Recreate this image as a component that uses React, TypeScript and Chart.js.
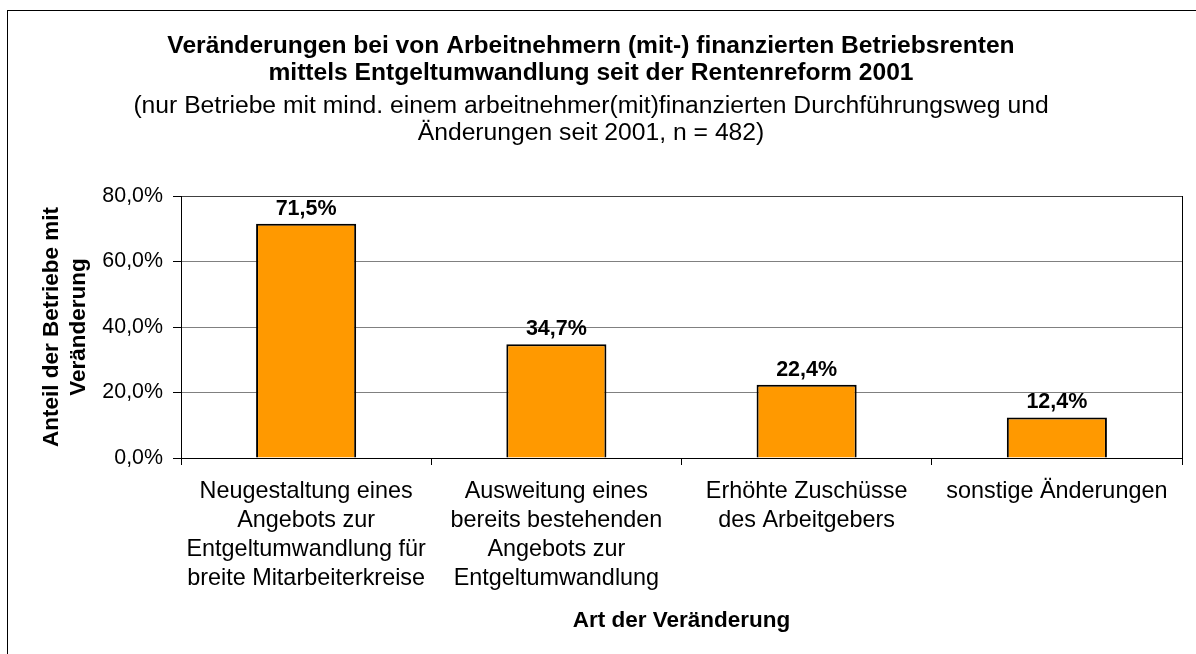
import React, { useEffect, useRef } from 'react';
import { Chart, registerables } from 'chart.js';

Chart.register(...registerables);

const FONT = "'Liberation Sans', Arial, Helvetica, sans-serif";

const titleLines = [
  'Veränderungen bei von Arbeitnehmern (mit-) finanzierten Betriebsrenten',
  'mittels Entgeltumwandlung seit der Rentenreform 2001',
];
const subtitleLines = [
  '(nur Betriebe mit mind. einem arbeitnehmer(mit)finanzierten Durchführungsweg und',
  'Änderungen seit 2001, n = 482)',
];
const categories = [
  ['Neugestaltung eines', 'Angebots zur', 'Entgeltumwandlung für', 'breite Mitarbeiterkreise'],
  ['Ausweitung eines', 'bereits bestehenden', 'Angebots zur', 'Entgeltumwandlung'],
  ['Erhöhte Zuschüsse', 'des Arbeitgebers'],
  ['sonstige Änderungen'],
];
const values = [71.5, 34.7, 22.4, 12.4];
const yMin = 0;
const yMax = 80;
const yStep = 20;
const yAxisTitle = ['Anteil der Betriebe mit', 'Veränderung'];
const xAxisTitle = 'Art der Veränderung';

const fmt = (v: number) => v.toFixed(1).replace('.', ',') + '%';

const valueLabels = {
  id: 'valueLabels',
  afterDatasetsDraw(chart: any) {
    const ctx = chart.ctx;
    const meta = chart.getDatasetMeta(0);
    ctx.save();
    ctx.font = `bold 21.5px ${FONT}`;
    ctx.fillStyle = '#000';
    ctx.textAlign = 'center';
    ctx.textBaseline = 'middle';
    meta.data.forEach((bar: any, i: number) => {
      const v = chart.data.datasets[0].data[i] as number;
      ctx.fillText(fmt(v), bar.x, bar.y - 15);
    });
    ctx.restore();
  },
};

const plotBorder = {
  id: 'plotBorder',
  afterDraw(chart: any) {
    const { ctx, chartArea } = chart;
    ctx.save();
    ctx.strokeStyle = '#000';
    ctx.lineWidth = 1;
    const x = Math.round(chartArea.right) + 0.5;
    ctx.beginPath();
    ctx.moveTo(x, chartArea.top);
    ctx.lineTo(x, chartArea.bottom);
    ctx.stroke();
    ctx.restore();
  },
};

export default function App() {
  const ref = useRef<HTMLCanvasElement | null>(null);

  useEffect(() => {
    document.documentElement.style.overflow = 'hidden';
    document.body.style.overflow = 'hidden';
    if (!ref.current) return;
    const chart = new Chart(ref.current, {
      type: 'bar',
      data: {
        labels: categories as any,
        datasets: [
          {
            data: values,
            backgroundColor: '#FF9900',
            borderColor: '#000000',
            borderWidth: 2,
            barPercentage: 0.8,
            categoryPercentage: 0.5,
          },
        ],
      },
      options: {
        responsive: false,
        animation: false,
        devicePixelRatio: 1,
        layout: { padding: { top: 0, left: 0, right: 14, bottom: 0 } },
        plugins: {
          legend: { display: false },
          tooltip: { enabled: false },
          title: {
            display: true,
            text: titleLines,
            color: '#000',
            font: { family: FONT, size: 24.6, weight: 'bold', lineHeight: 27 / 24.6 },
            padding: { top: 33, bottom: 4.5 },
          },
          subtitle: {
            display: true,
            text: subtitleLines,
            color: '#000',
            font: { family: FONT, size: 24.7, weight: 'normal', lineHeight: 27 / 24.7 },
            padding: { top: 1, bottom: 49.5 },
          },
        },
        scales: {
          x: {
            offset: true,
            grid: {
              display: true,
              drawOnChartArea: false,
              drawTicks: true,
              tickLength: 7,
              tickColor: '#000',
              offset: true,
            },
            border: { display: true, color: '#000', width: 1 },
            ticks: {
              color: '#000',
              font: { family: FONT, size: 23.4, lineHeight: 29 / 23.4 },
              padding: 12.5,
              maxRotation: 0,
              minRotation: 0,
              autoSkip: false,
            },
            title: {
              display: true,
              text: xAxisTitle,
              color: '#000',
              font: { family: FONT, size: 22.5, weight: 'bold', lineHeight: 27 / 22.5 },
              padding: { top: 13, bottom: 20 },
            },
            afterFit: (scale: any) => {
              scale.height = 196;
            },
          },
          y: {
            min: yMin,
            max: yMax,
            grid: {
              color: (c: any) => (c.tick && c.tick.value === yMax ? '#404040' : '#808080'),
              lineWidth: 1,
              tickLength: 8,
              tickColor: '#000',
            },
            border: { display: true, color: '#000', width: 1 },
            ticks: {
              stepSize: yStep,
              color: '#000',
              font: { family: FONT, size: 21.4 },
              padding: 10,
              callback: (v: any) => fmt(Number(v)),
            },
            title: {
              display: true,
              text: yAxisTitle,
              color: '#000',
              font: { family: FONT, size: 22.5, weight: 'bold', lineHeight: 27 / 22.5 },
              padding: { top: 38, bottom: 0 },
            },
            afterFit: (scale: any) => {
              scale.width = 181;
            },
          },
        },
      } as any,
      plugins: [valueLabels, plotBorder],
    });
    return () => chart.destroy();
  }, []);

  return (
    <div
      style={{
        position: 'fixed',
        left: 0,
        top: 0,
        width: 1196,
        height: 654,
        overflow: 'hidden',
        background: '#fff',
      }}
    >
      <div
        style={{
          position: 'absolute',
          left: 7,
          top: 10,
          width: 1300,
          height: 800,
          borderLeft: '1px solid #000',
          borderTop: '1px solid #000',
          boxSizing: 'border-box',
        }}
      />
      <canvas
        ref={ref}
        width={1196}
        height={654}
        style={{ position: 'absolute', left: 0, top: 0 }}
      />
    </div>
  );
}
